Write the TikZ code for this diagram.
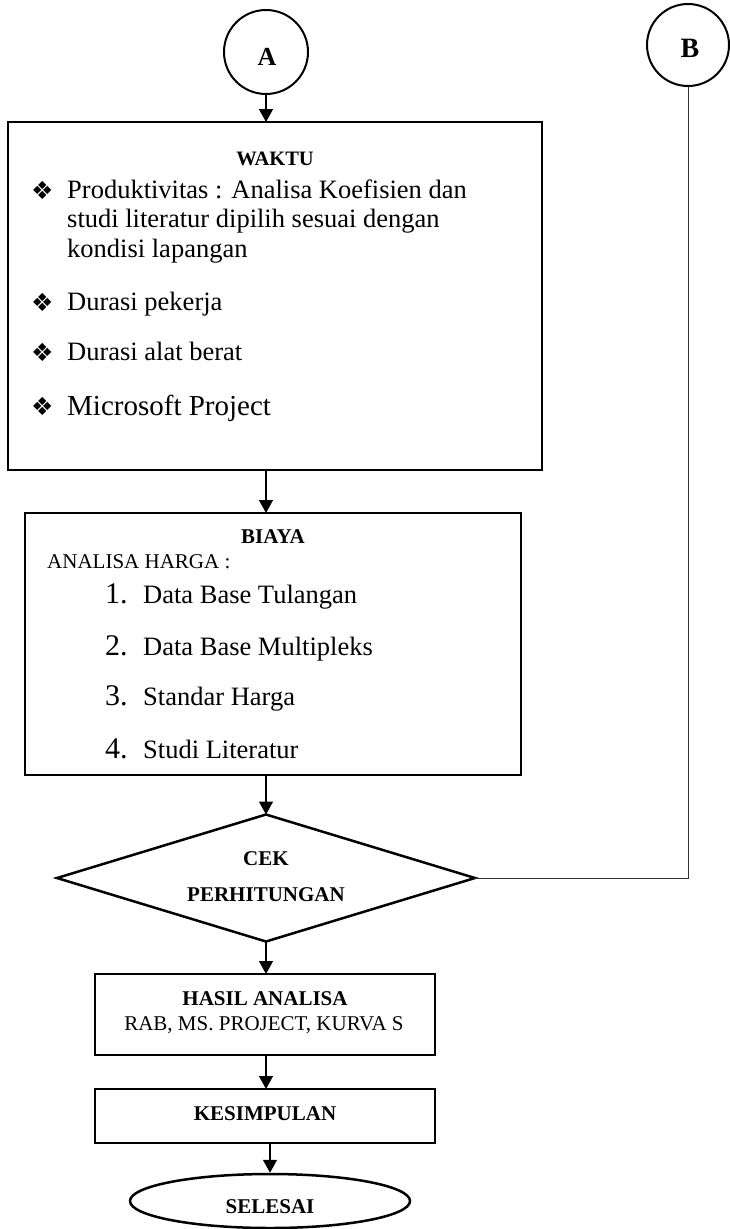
\documentclass[tikz,border=0pt]{standalone}
\usepackage{fontspec}
\setmainfont{Liberation Serif}
\newfontfamily\symfont{DejaVu Sans}
\usetikzlibrary{shapes.geometric,arrows.meta,calc}

\begin{document}
\begin{tikzpicture}[x=1pt,y=-1pt,
  box/.style={draw,line width=2.5pt,inner sep=0pt,outer sep=0pt},
  conn/.style={line width=1.3pt,-{Triangle[length=13pt,width=14pt]}},
  link/.style={line width=1pt,black!80},
  body/.style={inner sep=0pt,anchor=base west,font=\fontsize{26.5}{30}\selectfont},
  big/.style={inner sep=0pt,anchor=base west,font=\fontsize{29}{33}\selectfont},
  num/.style={inner sep=0pt,anchor=base west,font=\fontsize{30}{34}\selectfont},
  small/.style={inner sep=0pt,anchor=base west,font=\fontsize{21}{25}\selectfont},
  head/.style={inner sep=0pt,anchor=base,font=\fontsize{21}{25}\selectfont\bfseries},
  plain/.style={inner sep=0pt,anchor=base,font=\fontsize{21}{25}\selectfont},
  bul/.style={inner sep=0pt,anchor=base west,font=\symfont\fontsize{25}{28}\selectfont},
]
\useasboundingbox (0,0) rectangle (729,1229);

% connector circles
\node[draw,circle,line width=2pt,minimum size=84pt,inner sep=0pt] (A) at (266,52) {};
\node[inner sep=0pt,anchor=base,font=\fontsize{26}{30}\selectfont\bfseries] (Alab) at (267,65) {A};
\node[draw,circle,line width=2pt,minimum size=82pt,inner sep=0pt] (B) at (688,45) {};
\node[inner sep=0pt,anchor=base,font=\fontsize{28}{32}\selectfont\bfseries] (Blab) at (690,57) {B};

% WAKTU box
\node[box,minimum width=534pt,minimum height=348pt] (waktu) at (275,296) {};
\node[head,font=\fontsize{20.5}{24}\selectfont\bfseries] (wt) at (275,165) {WAKTU};
\node[bul] (b1) at (31,199) {❖};
\node[body] (w1) at (67,198) {Produktivitas : Analisa Koefisien dan};
\node[body] (w2) at (67,227) {studi literatur dipilih sesuai dengan};
\node[body] (w3) at (67,257) {kondisi lapangan};
\node[bul] (b2) at (31,311) {❖};
\node[body] (w4) at (67,310) {Durasi pekerja};
\node[bul] (b3) at (31,361) {❖};
\node[body] (w5) at (67,360) {Durasi alat berat};
\node[bul] (b4) at (31,415) {❖};
\node[big] (w6) at (67,415) {Microsoft Project};

% BIAYA box
\node[box,minimum width=496pt,minimum height=262pt] (biaya) at (273,644) {};
\node[head] (bt) at (273,543) {BIAYA};
\node[small] (ah) at (47,568) {ANALISA HARGA :};
\node[num] (n1) at (105,603) {1.};
\node[body] (t1) at (143,603) {Data Base Tulangan};
\node[num] (n2) at (105,655) {2.};
\node[body] (t2) at (143,655) {Data Base Multipleks};
\node[num] (n3) at (105,705) {3.};
\node[body] (t3) at (143,705) {Standar Harga};
\node[num] (n4) at (105,758) {4.};
\node[body] (t4) at (143,758) {Studi Literatur};

% decision
\node[draw,diamond,line width=2.5pt,minimum width=418pt,minimum height=127pt,inner sep=0pt,outer sep=0pt] (dia) at (266,878) {};
\node[head] (c1) at (266,865) {CEK};
\node[head] (c2) at (266,901) {PERHITUNGAN};

% results
\node[box,minimum width=340pt,minimum height=81pt] (hasil) at (265,1014.5) {};
\node[head] (h1) at (265,1005) {HASIL ANALISA};
\node[plain] (h2) at (264,1030) {RAB, MS. PROJECT, KURVA S};

\node[box,minimum width=340pt,minimum height=54pt] (kes) at (265,1116) {};
\node[head] (k1) at (265,1120) {KESIMPULAN};

\node[draw,ellipse,line width=2.5pt,minimum width=280pt,minimum height=54pt,inner sep=0pt] (end) at (270,1201) {};
\node[head] (e1) at (270,1213) {SELESAI};

% flow
\draw[conn] (A.south) -- (A.south |- waktu.north);
\draw[conn] (A.south |- waktu.south) -- (A.south |- biaya.north);
\draw[conn] (A.south |- biaya.south) -- (dia.north);
\draw[conn] (dia.south) -- (dia.south |- hasil.north);
\draw[conn] (dia.south |- hasil.south) -- (dia.south |- kes.north);
\draw[conn] (kes.south) -- (kes.south -| end.north) -- (end.north);
\draw[link] (dia.east) -| (B.south);
\end{tikzpicture}
\end{document}
